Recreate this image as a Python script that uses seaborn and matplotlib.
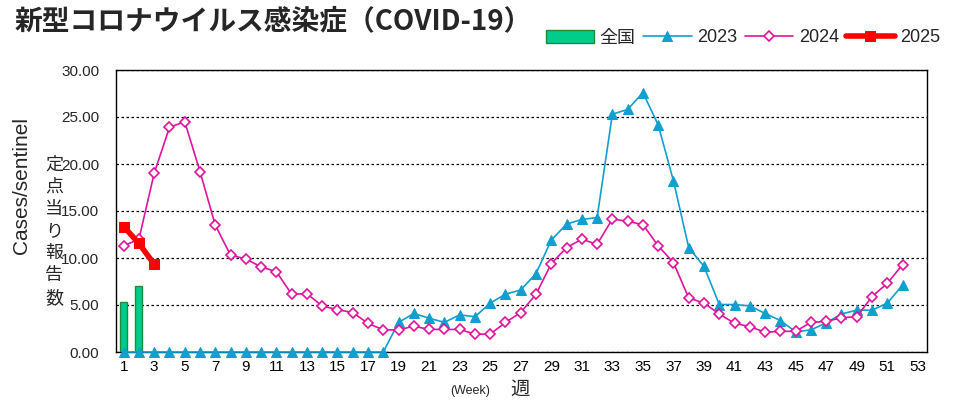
import matplotlib
matplotlib.use("Agg")
import matplotlib.pyplot as plt
import numpy as np
import pandas as pd
import seaborn as sns

# weekly cases per sentinel
weeks = list(range(1, 54))

nat_weeks = [1, 2]
nat_vals = [5.28, 7.06]

y2023 = [0, 0, 0, 0, 0, 0, 0, 0, 0, 0,
         0, 0, 0, 0, 0, 0, 0, 0, 3.15, 4.1,
         3.6, 3.15, 3.95, 3.75, 5.2, 6.15, 6.6, 8.35, 11.9, 13.6,
         14.1, 14.3, 25.3, 25.8, 27.6, 24.15, 18.2, 11.1, 9.1, 5.05,
         5.05, 4.9, 4.1, 3.35, 2.15, 2.35, 3.1, 4.05, 4.45, 4.45,
         5.2, 7.1]

y2024 = [11.3, 12.0, 19.0, 23.9, 24.5, 19.2, 13.5, 10.3, 9.9, 9.05,
         8.55, 6.15, 6.2, 4.9, 4.5, 4.2, 3.05, 2.35, 2.35, 2.75,
         2.4, 2.4, 2.4, 1.9, 1.9, 3.15, 4.2, 6.15, 9.4, 11.1,
         12.0, 11.45, 14.15, 13.9, 13.55, 11.3, 9.5, 5.75, 5.2, 4.05,
         3.05, 2.7, 2.1, 2.2, 2.2, 3.15, 3.25, 3.65, 3.75, 5.9,
         7.3, 9.3]

y2025 = [13.35, 11.55, 9.35]

xtick_labels = [str(w) for w in range(1, 54, 2)]

title = "新型コロナウイルス感染症（COVID-19）"

C_NAT, C_NAT_EDGE = "#00CC8C", "#1E8A3C"
C23, C24, C25 = "#119FCF", "#E0139C", "#FF0000"

sns.set_style("white")
plt.rcParams["font.family"] = ["Liberation Sans", "Noto Sans CJK JP", "DejaVu Sans"]

fig = plt.figure(figsize=(9.62, 4.03), dpi=100)
ax = fig.add_axes([116 / 962, 1 - 352 / 403, (927 - 116) / 962, (352 - 70) / 403])

sns.barplot(x=nat_weeks, y=nat_vals, native_scale=True, width=0.45,
            color=C_NAT, edgecolor=C_NAT_EDGE, linewidth=1.0, saturation=1,
            ax=ax, label="全国", zorder=3)

df23 = pd.DataFrame({"week": weeks[:len(y2023)], "v": y2023})
df24 = pd.DataFrame({"week": weeks[:len(y2024)], "v": y2024})
df25 = pd.DataFrame({"week": weeks[:len(y2025)], "v": y2025})

sns.lineplot(data=df23, x="week", y="v", ax=ax, color=C23, lw=1.2,
             marker="^", markersize=7, markeredgecolor=C23, label="2023",
             zorder=4, clip_on=False)
sns.lineplot(data=df24, x="week", y="v", ax=ax, color=C24, lw=1.2,
             marker="D", markersize=5, markerfacecolor="white",
             markeredgecolor=C24, markeredgewidth=1.2, label="2024", zorder=5)
sns.lineplot(data=df25, x="week", y="v", ax=ax, color=C25, lw=4,
             marker="s", markersize=7, markeredgecolor=C25, label="2025", zorder=6)

ax.set_xlim(0.5, 53.6)
ax.set_ylim(0, 30)
ax.set_yticks(np.arange(0, 31, 5))
ax.set_yticklabels([f"{v:.2f}" for v in np.arange(0, 31, 5)], fontsize=11)
ax.set_xticks(weeks, minor=True)
ax.set_xticks(range(1, 54, 2))
ax.set_xticklabels(xtick_labels, fontsize=11)
ax.tick_params(axis="x", which="both", direction="in", length=4, width=0.8,
               colors="black", pad=6)
ax.tick_params(axis="y", direction="in", length=4, width=0.8, pad=12)
ax.yaxis.grid(True, color="black", linestyle=(0, (2, 2)), linewidth=0.9)
ax.xaxis.grid(False)
ax.set_axisbelow(True)
for s in ax.spines.values():
    s.set_visible(True)
    s.set_color("black")
    s.set_linewidth(1.0)
ax.set_xlabel("")
ax.set_ylabel("")

handles, labels = ax.get_legend_handles_labels()
order = [labels.index(k) for k in ["全国", "2023", "2024", "2025"]]
if ax.legend_:
    ax.legend_.remove()
fig.legend([handles[i] for i in order], [labels[i] for i in order],
           loc="center right", bbox_to_anchor=(0.985, 1 - 38 / 403),
           ncol=4, frameon=False, fontsize=13, handlelength=2.7, handletextpad=0.3,
           columnspacing=0.4, borderaxespad=0)

fig.text(15 / 962, 1 - 21 / 403, title, fontsize=20, fontweight="bold",
         va="center", ha="left", family=["Noto Sans CJK JP"])
fig.text(22 / 962, 1 - 186 / 403, "Cases/sentinel", rotation=90, fontsize=15,
         va="center", ha="center")
fig.text(54 / 962, 1 - 231 / 403, "定\n点\n当\nり\n報\n告\n数", fontsize=13,
         va="center", ha="center", linespacing=1.3, family=["Noto Sans CJK JP"])
fig.text(470 / 962, 1 - 391 / 403, "(Week)", fontsize=9, va="center", ha="center")
fig.text(520 / 962, 1 - 389 / 403, "週", fontsize=14, va="center", ha="center",
         family=["Noto Sans CJK JP"])

fig.savefig("out.png", dpi=100)
